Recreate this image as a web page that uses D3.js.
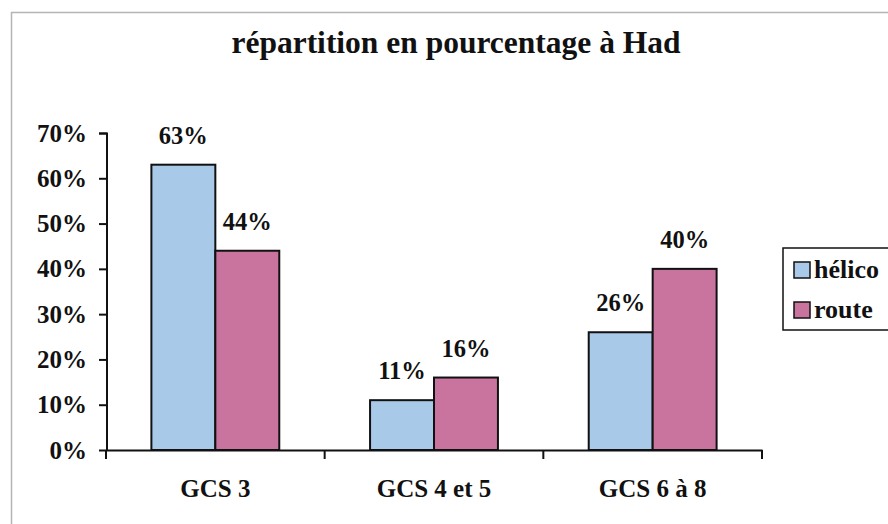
<!DOCTYPE html>
<html>
<head>
<meta charset="utf-8">
<script src="https://cdn.jsdelivr.net/npm/d3@7"></script>
<style>
    body { margin: 0; background: #fff; }
    text { font-family: "Liberation Serif", "Times New Roman", serif; font-weight: bold; fill: #111; }
</style>
</head>
<body>
<div id="barGraph"></div>
<script>
var categories = ["GCS 3", "GCS 4 et 5", "GCS 6 à 8"];
var series = ["hélico", "route"];
var helicoValues = [0.63, 0.11, 0.26];
var routeValues = [0.44, 0.16, 0.40];
var yTicks = [0, 0.1, 0.2, 0.3, 0.4, 0.5, 0.6, 0.7];
var colours = ["#a9c9e9", "#c8749f"];

function barChart() {
    var w = 888;
    var h = 524;

    var svg = d3.select("#barGraph")
                .append("svg")
                .attr("width", w)
                .attr("height", h);

    svg.append("rect")                                                  //light frame round the chart, runs off the page
        .attr("x", 11.5)
        .attr("y", 12.5)
        .attr("width", 900)
        .attr("height", 600)
        .attr("fill", "none")
        .attr("stroke", "#b5b5b5")
        .attr("stroke-width", 1.5);

    svg.append("text")
        .attr("x", 456)
        .attr("y", 53)
        .attr("text-anchor", "middle")
        .style("font-size", "31.5px")
        .text("répartition en pourcentage à Had");

    var x0 = d3.scaleBand()
                .domain(categories)
                .range([106, 762]);

    var x1 = d3.scaleBand()
                .domain(series)
                .range([0, x0.bandwidth()])
                .paddingOuter(0.71);

    var yScale = d3.scaleLinear()
                .domain([0, 0.7])
                .range([450, 133]);

    var rows = categories.map(function(c, i) {
        return { cat: c, values: [helicoValues[i], routeValues[i]] };
    });

    var groups = svg.selectAll(".cat")
                .data(rows)
                .enter()
                .append("g")
                .attr("class", "cat")
                .attr("transform", function(d) { return "translate(" + x0(d.cat) + ",0)"; });

    var bars = groups.selectAll(".bar")
                .data(function(d) { return d.values.map(function(v, j) { return { s: series[j], v: v, j: j }; }); })
                .enter();

    bars.append("rect")
        .attr("class", "bar")
        .attr("x", function(d) { return x1(d.s); })
        .attr("y", function(d) { return yScale(d.v); })
        .attr("width", x1.bandwidth())
        .attr("height", function(d) { return yScale(0) - yScale(d.v); })
        .attr("fill", function(d) { return colours[d.j]; })
        .attr("stroke", "#111")
        .attr("stroke-width", 2);

    bars.append("text")                                                 //value label above each bar
        .attr("x", function(d) { return x1(d.s) + x1.bandwidth() / 2; })
        .attr("y", function(d) { return yScale(d.v) - 21; })
        .attr("text-anchor", "middle")
        .style("font-size", "24.5px")
        .text(function(d) { return d3.format(".0%")(d.v); });

    var yAxis = d3.axisLeft()
                .scale(yScale)
                .tickValues(yTicks)
                .tickFormat(d3.format(".0%"))
                .tickSize(8)
                .tickPadding(12);

    var gy = svg.append("g")
        .attr("transform", "translate(107, 0)")
        .call(yAxis);

    var xAxis = d3.axisBottom()
                .scale(x0)
                .tickSize(0)
                .tickPadding(29);

    var gx = svg.append("g")
        .attr("transform", "translate(0, 450)")
        .call(xAxis);

    gx.selectAll(".boundary")                                           //ticks between the categories
        .data([106].concat(categories.map(function(c) { return x0(c) + x0.bandwidth(); })))
        .enter()
        .append("line")
        .attr("x1", function(d) { return d; })
        .attr("x2", function(d) { return d; })
        .attr("y1", 0)
        .attr("y2", 9)
        .attr("stroke", "#111")
        .attr("stroke-width", 2);

    [gy, gx].forEach(function(g) {
        g.select(".domain").attr("stroke", "#111").attr("stroke-width", 2);
        g.selectAll(".tick line").attr("stroke", "#111").attr("stroke-width", 2);
        g.selectAll(".tick text")
            .attr("fill", "#111")
            .style("font-family", "'Liberation Serif', 'Times New Roman', serif")
            .style("font-weight", "bold")
            .style("font-size", "25px");
    });
    gy.select(".domain").attr("d", "M-8,133.5H0V450");                 //no end tick at the bottom

    var legend = svg.append("g");

    legend.append("rect")
        .attr("x", 783)
        .attr("y", 248)
        .attr("width", 120)
        .attr("height", 82)
        .attr("fill", "#fff")
        .attr("stroke", "#111")
        .attr("stroke-width", 1.5);

    series.forEach(function(s, i) {
        var cy = 270 + i * 40;
        legend.append("rect")
            .attr("x", 794)
            .attr("y", cy - 8)
            .attr("width", 16)
            .attr("height", 16)
            .attr("fill", colours[i])
            .attr("stroke", "#111")
            .attr("stroke-width", 1.5);
        legend.append("text")
            .attr("x", 814)
            .attr("y", cy + 8)
            .style("font-size", "26px")
            .text(s);
    });
}

barChart();
</script>
</body>
</html>
